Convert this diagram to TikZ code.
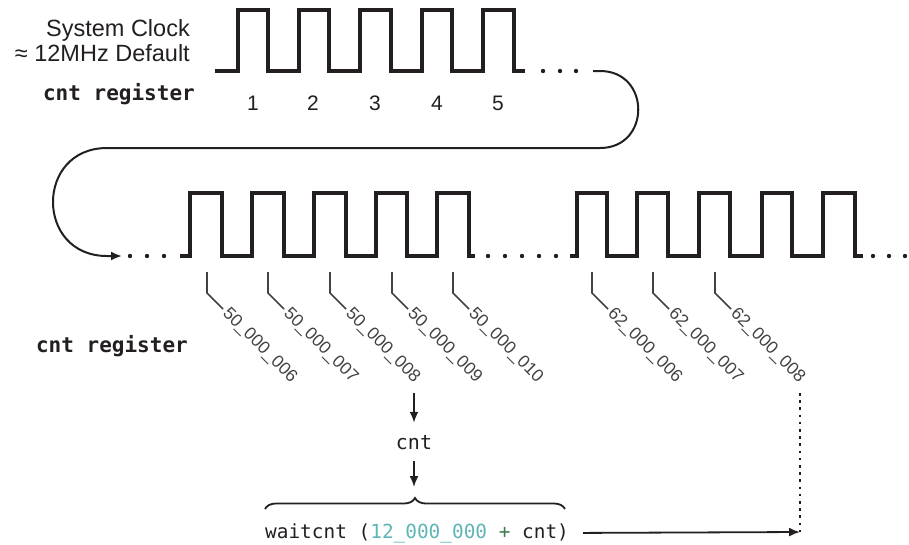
\documentclass[tikz,border=0pt]{standalone}
\usepackage{fontspec}
\setmainfont{Liberation Sans}
\setmonofont{DejaVu Sans Mono}
\usetikzlibrary{arrows.meta,decorations.pathreplacing}
\definecolor{ink}{RGB}{35,31,32}
\definecolor{tealnum}{RGB}{95,180,182}
\definecolor{plusgreen}{RGB}{60,125,80}
\begin{document}
\begin{tikzpicture}[x=1pt,y=-1pt,
  wave/.style={line width=3.3pt, draw=ink},
  tickline/.style={line width=1.7pt, draw=ink!85},
  ticklabel/.style={font=\fontsize{17.5}{17.5}\selectfont, text=ink!85, rotate=-45, anchor=west, inner sep=0pt},
  mono/.style={font=\ttfamily\fontsize{21}{21}\selectfont, text=ink, inner sep=0pt},
  sans/.style={font=\fontsize{23.5}{26}\selectfont, text=ink, inner sep=0pt},
  num/.style={font=\fontsize{21}{21}\selectfont, text=ink, inner sep=0pt, anchor=base},
  looparrow/.style={line width=2pt, draw=ink, -{Latex[length=11pt,width=9pt]}},
  arr/.style={line width=1.8pt, draw=ink, -{Latex[length=11pt,width=9pt]}},
  dottedline/.style={line width=2.6pt, draw=ink, dash pattern=on 2.6pt off 4.6pt},
  bracestyle/.style={line width=1.8pt, draw=ink, decorate, decoration={brace, amplitude=11pt}}
]
\useasboundingbox (0,0) rectangle (909,544);

% labels
\node[sans, anchor=base east] (sc1) at (190,36) {System Clock};
\node[sans, anchor=base east] (sc2) at (190,61) {≈ 12MHz Default};
\node[mono, font=\ttfamily\bfseries\fontsize{21}{21}\selectfont, anchor=base east] (cr1) at (195,100) {cnt register};
\node[mono, font=\ttfamily\bfseries\fontsize{21}{21}\selectfont, anchor=base east] (cr2) at (188,352) {cnt register};

% top waveform
\draw[wave] (215,71) -| (238,10) -| (268,71) -| (299,10) -| (329,71) -| (360,10)
  -| (391,71) -| (422,10) -| (452,71) -| (483,10) -| (514,71) -- (525,71);
\foreach \x in {543,560,576} \fill[ink] (\x,71) circle (2.2pt);
\foreach \x/\n in {253/1,313/2,375/3,437/4,498/5}
  \node[num] (n\n) at (\x,110) {\n};

% loop connector
\coordinate (ls) at (593,71);
\coordinate (le) at (122,256);
\draw[looparrow] (ls) -- (600,71) .. controls (651,71) and (651,148) .. (600,148)
  -- (107,148) .. controls (35,148) and (35,256) .. (107,256) -- (le);

% bottom waveform
\foreach \x in {130,147,164} \fill[ink] (\x,256) circle (2.2pt);
\draw[wave] (180,256) -| (190,193) -| (222,256) -| (252,193) -| (284,256) -| (314,193)
  -| (346,256) -| (376,193) -| (407,256) -| (437,193) -| (469,256) -- (475,256);
\foreach \x in {488,505,522,539,556} \fill[ink] (\x,256) circle (2.2pt);
\draw[wave] (570,256) -| (577,193) -| (607,256) -| (637,193) -| (668,256) -| (699,193)
  -| (730,256) -| (762,193) -| (792,256) -| (823,193) -| (855,256) -- (863,256);
\foreach \x in {873,889,905} \fill[ink] (\x,256) circle (2.2pt);

% ticks and labels
\foreach \x/\lab [count=\i] in {207/50\_000\_006,268/50\_000\_007,330/50\_000\_008,392/50\_000\_009,453/50\_000\_010,592/62\_000\_006,653/62\_000\_007,715/62\_000\_008} {
  \draw[tickline] (\x,272) coordinate (t\i) -- (\x,293) -- ({\x+16},309) coordinate (e\i);
  \node[ticklabel] (l\i) at ({\x+18},311) {\lab};
}

% cnt and brace
\coordinate (c1) at (414,393);
\node[mono, font=\ttfamily\fontsize{20}{20}\selectfont, anchor=base, inner xsep=0pt, inner ysep=12pt] (cnt) at (414,449) {cnt};
\draw[arr] (c1) -- (cnt.north);
\coordinate (bt) at (414,487);
\draw[arr] (cnt.south) -- (bt);
\coordinate (bl) at (265,509);
\coordinate (br) at (565,509);
\draw[bracestyle] (bl) -- (br);

\node[mono, font=\ttfamily\fontsize{19.4}{19.4}\selectfont, anchor=base west] (wc) at (265,538)
  {waitcnt (\textcolor{tealnum}{12\_000\_000} \textcolor{plusgreen}{+} cnt)};
\coordinate (dtop) at (800,393);
\coordinate (dend) at (800,532);
\draw[dottedline] (dtop) -- (dend);
\draw[arr] ([xshift=14pt]wc.east) -- (dend);
\end{tikzpicture}
\end{document}
